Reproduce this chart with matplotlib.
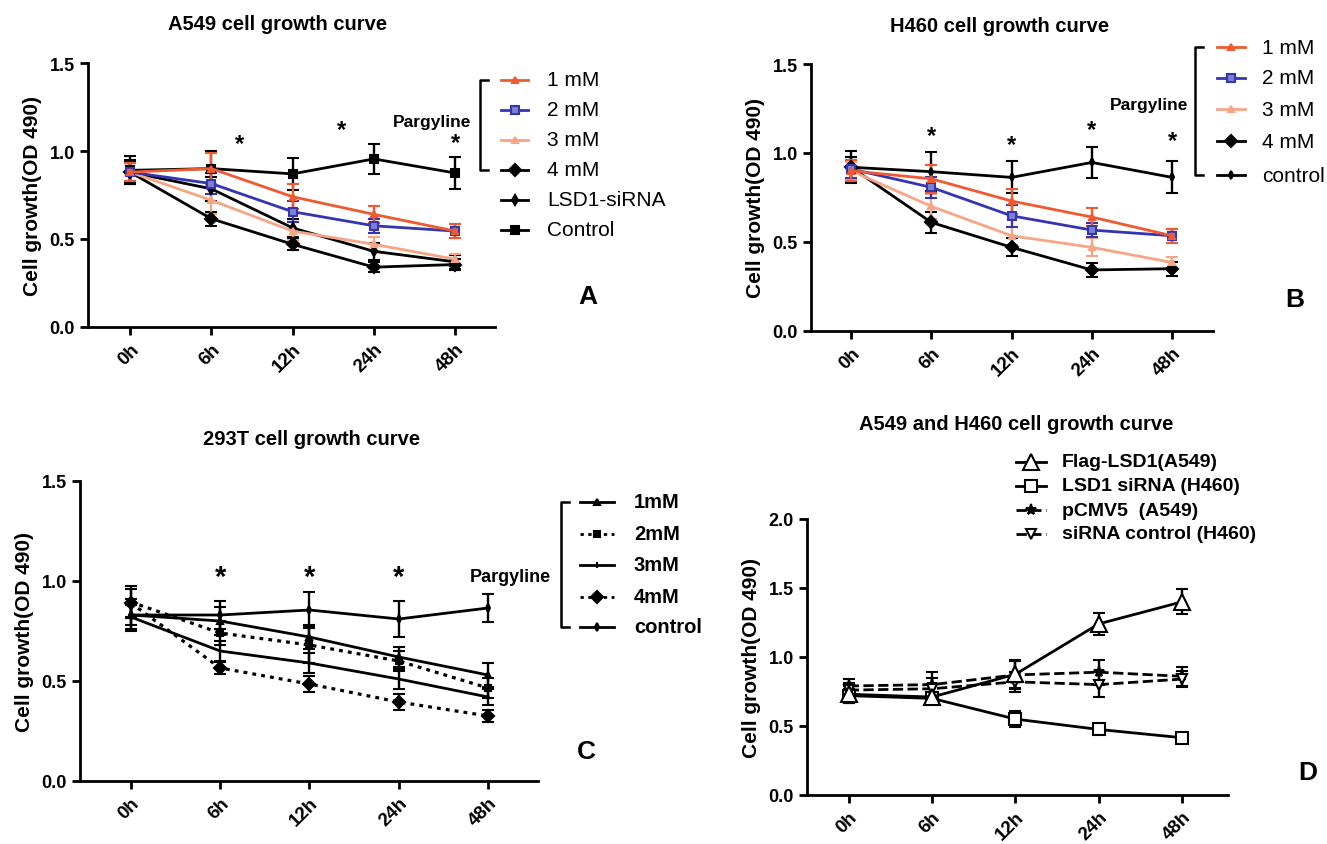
# 세포 성장 곡선 4개 패널 재현
import numpy as np
import matplotlib.pyplot as plt

plt.rcParams['font.family'] = ['Liberation Sans', 'DejaVu Sans']

# 공통 x축
times = ['0h', '6h', '12h', '24h', '48h']

# A549 (패널 A)
a_1mm = [0.88, 0.90, 0.74, 0.64, 0.545]
a_2mm = [0.88, 0.815, 0.655, 0.575, 0.545]
a_3mm = [0.88, 0.72, 0.545, 0.47, 0.385]
a_4mm = [0.88, 0.615, 0.47, 0.34, 0.355]
a_sirna = [0.88, 0.785, 0.563, 0.43, 0.37]
a_ctrl = [0.89, 0.90, 0.87, 0.955, 0.875]
a_1mm_err = [0.05, 0.09, 0.07, 0.05, 0.04]
a_2mm_err = [0.05, 0.06, 0.06, 0.04, 0.04]
a_3mm_err = [0.05, 0.08, 0.05, 0.04, 0.03]
a_4mm_err = [0.06, 0.04, 0.03, 0.03, 0.03]
a_sirna_err = [0.07, 0.07, 0.05, 0.05, 0.04]
a_ctrl_err = [0.08, 0.10, 0.09, 0.085, 0.09]

# H460 (패널 B)
b_1mm = [0.90, 0.855, 0.73, 0.64, 0.535]
b_2mm = [0.91, 0.807, 0.647, 0.567, 0.535]
b_3mm = [0.90, 0.70, 0.535, 0.47, 0.385]
b_4mm = [0.92, 0.61, 0.47, 0.343, 0.35]
b_ctrl = [0.92, 0.895, 0.863, 0.947, 0.863]
b_1mm_err = [0.06, 0.08, 0.07, 0.05, 0.04]
b_2mm_err = [0.05, 0.06, 0.06, 0.04, 0.04]
b_3mm_err = [0.05, 0.07, 0.05, 0.05, 0.03]
b_4mm_err = [0.06, 0.06, 0.05, 0.04, 0.04]
b_ctrl_err = [0.09, 0.11, 0.09, 0.085, 0.09]

# 293T (패널 C)
c_1mm = [0.83, 0.80, 0.72, 0.62, 0.53]
c_2mm = [0.895, 0.74, 0.68, 0.60, 0.465]
c_3mm = [0.82, 0.65, 0.59, 0.51, 0.42]
c_4mm = [0.89, 0.565, 0.485, 0.395, 0.325]
c_ctrl = [0.83, 0.83, 0.855, 0.81, 0.865]
c_1mm_err = [0.05, 0.07, 0.06, 0.05, 0.06]
c_2mm_err = [0.08, 0.06, 0.09, 0.05, 0.05]
c_3mm_err = [0.06, 0.05, 0.05, 0.05, 0.04]
c_4mm_err = [0.07, 0.03, 0.04, 0.04, 0.03]
c_ctrl_err = [0.08, 0.07, 0.09, 0.09, 0.07]

# A549 / H460 LSD1 (패널 D)
d_flag = [0.73, 0.71, 0.875, 1.24, 1.40]
d_sirna = [0.72, 0.70, 0.55, 0.475, 0.415]
d_pcmv = [0.79, 0.80, 0.87, 0.89, 0.86]
d_sictrl = [0.76, 0.77, 0.82, 0.80, 0.84]
d_flag_err = [0.06, 0.04, 0.10, 0.08, 0.09]
d_sirna_err = [0.05, 0.04, 0.06, 0.03, 0.03]
d_pcmv_err = [0.05, 0.09, 0.10, 0.09, 0.07]
d_sictrl_err = [0.05, 0.08, 0.07, 0.09, 0.06]

ORANGE = '#ef5a30'
BLUE = '#3535b0'
SALMON = '#f6a585'

W, H = 1327, 845
fig = plt.figure(figsize=(W / 100, H / 100), dpi=100)

# 픽셀 좌표용 오버레이 축 (맨 위)
ov = fig.add_axes([0, 0, 1, 1])
ov.set_xlim(0, W)
ov.set_ylim(H, 0)
ov.axis('off')
ov.set_zorder(10)


def px_axes(left, right, top, bottom):
    return fig.add_axes([left / W, 1 - bottom / H, (right - left) / W, (bottom - top) / H])


def style_axes(ax, xlim, ymax, step, title, title_xy):
    x = np.arange(len(times))
    ax.set_xlim(*xlim)
    ax.set_ylim(0, ymax)
    ax.set_xticks(x)
    ax.set_xticklabels(times, rotation=45, ha='right', rotation_mode='anchor',
                       fontsize=13.5, fontweight='bold')
    yt = np.arange(0, ymax + 0.01, step)
    ax.set_yticks(yt)
    ax.set_yticklabels(['%.1f' % v for v in yt], fontsize=13, fontweight='bold')
    ax.spines['top'].set_visible(False)
    ax.spines['right'].set_visible(False)
    ax.spines['left'].set_linewidth(2)
    ax.spines['bottom'].set_linewidth(2)
    ax.tick_params(width=2, length=6)
    ax.set_ylabel('Cell growth(OD 490)', fontsize=15, fontweight='bold', labelpad=5)
    ov.text(title_xy[0], title_xy[1], title, ha='center', va='center',
            fontsize=14.5, fontweight='bold')


def curve(ax, y, err, color='k', marker='o', ms=5, ls='-', mfc=None, lw=2):
    x = np.arange(len(times))
    ax.errorbar(x, y, yerr=err, color=color, marker=marker, ms=ms, ls=ls, lw=lw,
                mfc=color if mfc is None else mfc, mec=color, mew=1.5,
                elinewidth=1.7, capsize=4, capthick=1.7, clip_on=False)


def legend_row(x1, x2, y, label, tx, color='k', marker='o', ms=5, ls='-', mfc=None,
               fs=15, weight='normal'):
    ov.plot([x1, x2], [y, y], color=color, ls=ls, lw=2)
    ov.plot([(x1 + x2) / 2], [y], marker=marker, ms=ms, color=color,
            mfc=color if mfc is None else mfc, mec=color, mew=1.5, ls='none')
    ov.text(tx, y, label, va='center', ha='left', fontsize=fs, fontweight=weight)


def bracket(x, y1, y2):
    ov.plot([x + 8, x, x, x + 8], [y1, y1, y2, y2], color='k', lw=1.8)


# ---- 패널 A ----
axA = px_axes(88, 495, 64, 328)
style_axes(axA, (-0.517, 4.49), 1.5, 0.5, 'A549 cell growth curve', (278, 24))
curve(axA, a_ctrl, a_ctrl_err, marker='s', ms=6)
curve(axA, a_sirna, a_sirna_err, marker='d', ms=5)
curve(axA, a_4mm, a_4mm_err, marker='D', ms=6)
curve(axA, a_3mm, a_3mm_err, color=SALMON, marker='^', ms=4)
curve(axA, a_2mm, a_2mm_err, color=BLUE, marker='s', ms=6, mfc='#8080d0')
curve(axA, a_1mm, a_1mm_err, color=ORANGE, marker='^', ms=4)
for xs, ys in [(1.35, 1.04), (2.6, 1.12), (4.0, 1.05)]:
    axA.text(xs, ys, '*', ha='center', va='center', fontsize=17, fontweight='bold', clip_on=False)
axA.text(4.2, 1.17, 'Pargyline', ha='right', va='center', fontsize=12.5, fontweight='bold')
rowsA = [81, 111, 141, 171, 201, 231]
bracket(480, rowsA[0], rowsA[3])
legend_row(501, 528, rowsA[0], '1 mM', 547, color=ORANGE, marker='^', ms=4)
legend_row(501, 528, rowsA[1], '2 mM', 547, color=BLUE, marker='s', ms=6, mfc='#8080d0')
legend_row(501, 528, rowsA[2], '3 mM', 547, color=SALMON, marker='^', ms=4)
legend_row(501, 528, rowsA[3], '4 mM', 547, marker='D', ms=6)
legend_row(501, 528, rowsA[4], 'LSD1-siRNA', 547, marker='d', ms=5)
legend_row(501, 528, rowsA[5], 'Control', 547, marker='s', ms=6)
ov.text(588, 297, 'A', ha='center', va='center', fontsize=19, fontweight='bold')

# ---- 패널 B ----
axB = px_axes(811, 1213, 65, 332)
style_axes(axB, (-0.5, 4.51), 1.5, 0.5, 'H460 cell growth curve', (1000, 26))
curve(axB, b_ctrl, b_ctrl_err, marker='d', ms=4)
curve(axB, b_4mm, b_4mm_err, marker='D', ms=6)
curve(axB, b_3mm, b_3mm_err, color=SALMON, marker='^', ms=4)
curve(axB, b_2mm, b_2mm_err, color=BLUE, marker='s', ms=6, mfc='#8080d0')
curve(axB, b_1mm, b_1mm_err, color=ORANGE, marker='^', ms=4)
for xs, ys in [(1, 1.10), (2, 1.05), (3, 1.13), (4, 1.07)]:
    axB.text(xs, ys, '*', ha='center', va='center', fontsize=17, fontweight='bold', clip_on=False)
axB.text(4.2, 1.27, 'Pargyline', ha='right', va='center', fontsize=12.5, fontweight='bold')
rowsB = [48, 79, 110, 142, 176]
bracket(1195, rowsB[0], rowsB[4])
legend_row(1217, 1245, rowsB[0], '1 mM', 1262, color=ORANGE, marker='^', ms=4)
legend_row(1217, 1245, rowsB[1], '2 mM', 1262, color=BLUE, marker='s', ms=6, mfc='#8080d0')
legend_row(1217, 1245, rowsB[2], '3 mM', 1262, color=SALMON, marker='^', ms=4)
legend_row(1217, 1245, rowsB[3], '4 mM', 1262, marker='D', ms=6)
legend_row(1217, 1245, rowsB[4], 'control', 1262, marker='d', ms=4)
ov.text(1295, 300, 'B', ha='center', va='center', fontsize=19, fontweight='bold')

# ---- 패널 C ----
axC = px_axes(80, 538, 482, 782)
style_axes(axC, (-0.57, 4.56), 1.5, 0.5, '293T cell growth curve', (312, 440))
dot = (0, (1.2, 1.6))
curve(axC, c_ctrl, c_ctrl_err, marker='d', ms=4)
curve(axC, c_1mm, c_1mm_err, marker='^', ms=4)
curve(axC, c_2mm, c_2mm_err, marker='s', ms=5, ls=dot, lw=2.3)
curve(axC, c_3mm, c_3mm_err, marker='|', ms=5)
curve(axC, c_4mm, c_4mm_err, marker='D', ms=6, ls=dot, lw=2.3)
for xs in [1, 2, 3]:
    axC.text(xs, 1.02, '*', ha='center', va='center', fontsize=21, fontweight='bold', clip_on=False)
axC.text(4.7, 1.02, 'Pargyline', ha='right', va='center', fontsize=13, fontweight='bold')
rowsC = [503, 535, 566, 598, 628]
bracket(561, rowsC[0], rowsC[4])
legend_row(580, 614, rowsC[0], '1mM', 634, marker='^', ms=4, fs=14.5, weight='bold')
legend_row(580, 614, rowsC[1], '2mM', 634, marker='s', ms=5, ls=dot, fs=14.5, weight='bold')
legend_row(580, 614, rowsC[2], '3mM', 634, marker='|', ms=5, fs=14.5, weight='bold')
legend_row(580, 614, rowsC[3], '4mM', 634, marker='D', ms=6, ls=dot, fs=14.5, weight='bold')
legend_row(580, 614, rowsC[4], 'control', 634, marker='d', ms=4, fs=14.5, weight='bold')
ov.text(586, 752, 'C', ha='center', va='center', fontsize=19, fontweight='bold')

# ---- 패널 D ----
axD = px_axes(807, 1228, 520, 796)
style_axes(axD, (-0.5, 4.55), 2.0, 0.5, 'A549 and H460 cell growth curve', (1016, 425))
curve(axD, d_pcmv, d_pcmv_err, marker='*', ms=8, ls='--')
curve(axD, d_sictrl, d_sictrl_err, marker='v', ms=7, ls='--', mfc='white')
curve(axD, d_sirna, d_sirna_err, marker='s', ms=9, mfc='white')
curve(axD, d_flag, d_flag_err, marker='^', ms=12, mfc='white')
rowsD = [463, 487, 511, 535]
legend_row(1016, 1046, rowsD[0], 'Flag-LSD1(A549)', 1062, marker='^', ms=11, mfc='white', fs=14, weight='bold')
legend_row(1016, 1046, rowsD[1], 'LSD1 siRNA (H460)', 1062, marker='s', ms=9, mfc='white', fs=14, weight='bold')
legend_row(1016, 1046, rowsD[2], 'pCMV5  (A549)', 1062, marker='*', ms=8, ls='--', fs=14, weight='bold')
legend_row(1016, 1046, rowsD[3], 'siRNA control (H460)', 1062, marker='v', ms=7, ls='--', mfc='white', fs=14, weight='bold')
ov.text(1308, 773, 'D', ha='center', va='center', fontsize=19, fontweight='bold')

fig.savefig('out.png', dpi=100)
